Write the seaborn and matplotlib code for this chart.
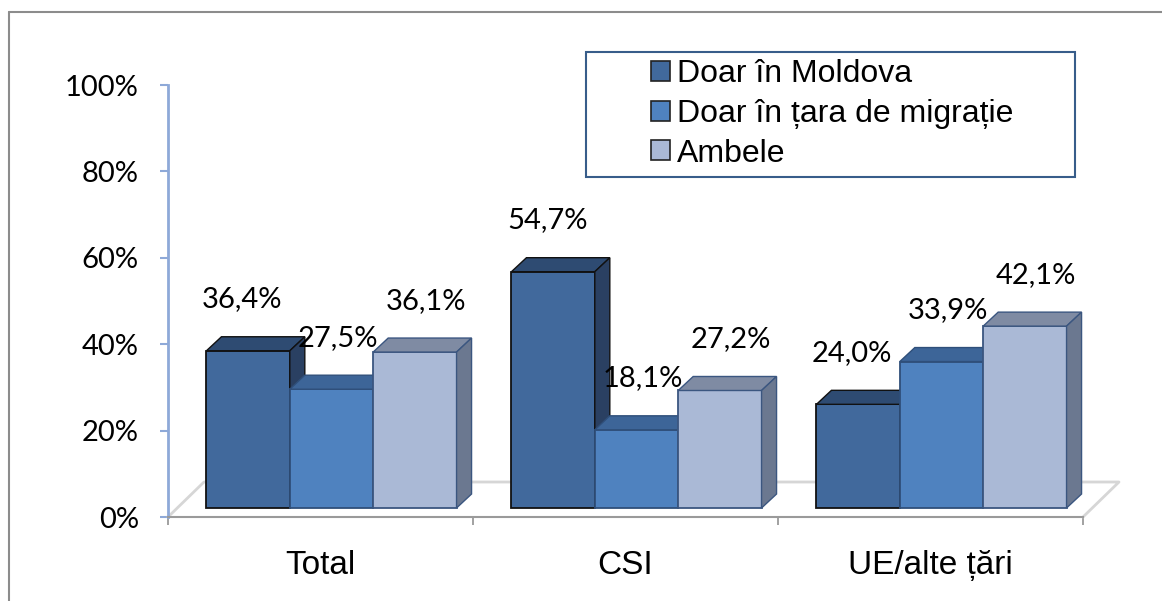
import matplotlib
matplotlib.use("Agg")
import matplotlib.pyplot as plt
from matplotlib.patches import Polygon, Patch, Rectangle
from matplotlib.lines import Line2D
import seaborn as sns
import pandas as pd
import numpy as np

categories = ["Total", "CSI", "UE/alte țări"]
series = ["Doar în Moldova", "Doar în țara de migrație", "Ambele"]
doar_moldova = [36.4, 54.7, 24.0]
doar_migratie = [27.5, 18.1, 33.9]
ambele = [36.1, 27.2, 42.1]
y_ticks = [0, 20, 40, 60, 80, 100]

# colours of the fake 3d faces
front = ["#41699C", "#4F82BF", "#AAB9D6"]
top_c = ["#2E4B72", "#3D6598", "#7F8BA3"]
side_c = ["#2A4062", "#34557F", "#6B7890"]
edge_c = ["#111111", "#2F4F7A", "#3B5680"]
label_dx = [-6, 6, 11]  # px, label shift per series

df = pd.DataFrame({
    "cat": categories * 3,
    "serie": np.repeat(series, 3),
    "val": doar_moldova + doar_migratie + ambele,
})

sns.set_theme(style="white")
plt.rcParams["font.family"] = ["Liberation Sans", "DejaVu Sans"]
plt.rcParams["text.color"] = "black"
num_font = ["Lato", "DejaVu Sans"]

W, H = 1162, 601
fig = plt.figure(figsize=(W / 100, H / 100), dpi=100)
ax = fig.add_axes([168 / W, 84 / H, 915 / W, 432 / H])

sns.barplot(data=df, x="cat", y="val", hue="serie", palette=front, saturation=1,
            width=0.82, gap=0, legend=False, ax=ax)
ax.set_xlim(-0.5, 2.5)
ax.set_ylim(0, 100)

px_x = 915 / 3
px_y = 432 / 100
shift = 11 / px_x
lift = 9 / px_y
dx = 15 / px_x
dy = 14 / px_y

bars = []
for h, cont in enumerate(ax.containers):
    for p in cont.patches:
        bars.append((p.get_x(), h, p))
bars.sort(key=lambda b: b[0])

for k, (x, h, p) in enumerate(bars):
    v = p.get_height()
    x0 = x + shift
    x1 = x0 + p.get_width()
    y1 = lift + v
    p.set_x(x0)
    p.set_y(lift)
    p.set_edgecolor(edge_c[h])
    p.set_linewidth(1.3)
    z = 3 + k * 0.01
    p.set_zorder(z)
    ax.add_patch(Polygon([(x0, y1), (x0 + dx, y1 + dy), (x1 + dx, y1 + dy), (x1, y1)],
                         closed=True, facecolor=top_c[h], edgecolor=edge_c[h], lw=1.0, zorder=z + 0.005))
    ax.add_patch(Polygon([(x1, lift), (x1 + dx, lift + dy), (x1 + dx, y1 + dy), (x1, y1)],
                         closed=True, facecolor=side_c[h], edgecolor=edge_c[h], lw=1.0, zorder=z + 0.005))
    ax.annotate(f"{v:.1f}".replace(".", ",") + "%", xy=((x0 + x1) / 2, y1),
                xytext=(label_dx[h] * 0.72, 37), textcoords="offset points",
                ha="center", va="center", fontsize=21, family=num_font, color="black", zorder=10)

# floor of the 3d box
fdx = 36 / px_x
fdy = 35 / px_y
ax.plot([-0.5, -0.5 + fdx, 2.5 + fdx, 2.5], [0, fdy, fdy, 0], color="#D6D6D6", lw=2,
        clip_on=False, zorder=1)

ax.set_yticks(y_ticks)
ax.set_yticklabels([f"{t}%" for t in y_ticks], fontsize=21, family=num_font)
ax.tick_params(axis="y", left=True, length=6, width=1.5, color="#8EA9D8", labelcolor="black",
               pad=15, direction="out")
ax.set_xticks([0, 1, 2])
ax.set_xticklabels(categories, fontsize=24)
ax.set_xticks([-0.5, 0.5, 1.5, 2.5], minor=True)
ax.tick_params(axis="x", which="major", length=0, pad=24, labelcolor="black")
ax.tick_params(axis="x", which="minor", bottom=True, length=6, width=1.3, color="#9A9A9A", direction="out")
ax.set_xlabel("")
ax.set_ylabel("")
for s in ["top", "right"]:
    ax.spines[s].set_visible(False)
ax.spines["left"].set_color("#8EA9D8")
ax.spines["left"].set_linewidth(2)
ax.spines["bottom"].set_color("#9A9A9A")
ax.spines["bottom"].set_linewidth(1.5)

handles = [Patch(facecolor=front[i], edgecolor="#222222", lw=1.2) for i in range(3)]
fig.legend(handles, series, loc="center", bbox_to_anchor=(832 / W, 1 - 114 / H), frameon=False,
           fontsize=23, handlelength=0.6, handleheight=0.6, handletextpad=0.2, labelspacing=0.3,
           borderpad=0)
fig.add_artist(Rectangle((586 / W, 1 - 177 / H), (1075 - 586) / W, 125 / H, transform=fig.transFigure,
                         fill=False, edgecolor="#385D8A", lw=1.5))

# chart area border (only left and top visible)
fig.add_artist(Line2D([9 / W, 9 / W], [0, 1 - 12 / H], color="#8C8C8C", lw=1.5))
fig.add_artist(Line2D([9 / W, 1], [1 - 12 / H, 1 - 12 / H], color="#8C8C8C", lw=1.5))

fig.savefig("out.png", dpi=100)
